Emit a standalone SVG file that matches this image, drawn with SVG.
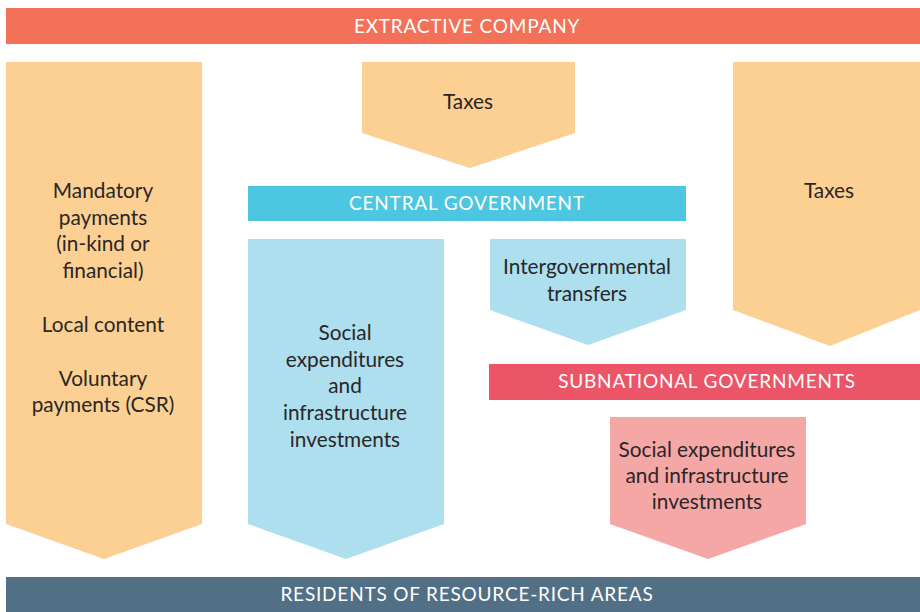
<svg xmlns="http://www.w3.org/2000/svg" width="920" height="612" viewBox="0 0 920 612">
  <style>
    .lbl { font-family: Lato, "Open Sans", "Liberation Sans", sans-serif; font-size: 20.8px; fill: #2a2627; text-anchor: middle; }
    .bar { font-family: Lato, "Open Sans", "Liberation Sans", sans-serif; font-size: 19px; fill: #ffffff; text-anchor: middle; letter-spacing: 0.8px; }
    .sand { fill: #FCD092; }
    .sky { fill: #ADDFEF; }
  </style>
  <rect width="920" height="612" fill="#ffffff"/>

  <g id="extractive-company">
    <rect x="6" y="8" width="914" height="36" fill="#F37158"/>
    <text class="bar" x="467" y="33">EXTRACTIVE COMPANY</text>
  </g>

  <g id="direct-payments">
    <polygon class="sand" points="6,62 202,62 202,524 104,559 6,524"/>
    <text class="lbl" x="103" y="198">Mandatory</text>
    <text class="lbl" x="103" y="225">payments</text>
    <text class="lbl" x="103" y="251">(in-kind or</text>
    <text class="lbl" x="103" y="278">financial)</text>
    <text class="lbl" x="103" y="332">Local content</text>
    <text class="lbl" x="103" y="386">Voluntary</text>
    <text class="lbl" x="103" y="412">payments (CSR)</text>
  </g>

  <g id="taxes-central">
    <polygon class="sand" points="362,62 575,62 575,133 470,168 362,133"/>
    <text class="lbl" x="468" y="109">Taxes</text>
  </g>

  <g id="taxes-subnational">
    <polygon class="sand" points="733,62 920,62 920,310 830,346 733,310"/>
    <text class="lbl" x="829" y="198">Taxes</text>
  </g>

  <g id="central-government">
    <rect x="248" y="186" width="438" height="35" fill="#4DC6E1"/>
    <text class="bar" x="467" y="210">CENTRAL GOVERNMENT</text>
  </g>

  <g id="central-spending">
    <polygon class="sky" points="248,239 444,239 444,524 346,559 248,524"/>
    <text class="lbl" x="345" y="340">Social</text>
    <text class="lbl" x="345" y="367">expenditures</text>
    <text class="lbl" x="345" y="393">and</text>
    <text class="lbl" x="345" y="420">infrastructure</text>
    <text class="lbl" x="345" y="447">investments</text>
  </g>

  <g id="transfers">
    <polygon class="sky" points="490,239 686,239 686,310 588,345 490,310"/>
    <text class="lbl" x="587" y="274">Intergovernmental</text>
    <text class="lbl" x="587" y="301">transfers</text>
  </g>

  <g id="subnational-governments">
    <rect x="489" y="364" width="431" height="36" fill="#EC5567"/>
    <text class="bar" x="707" y="388">SUBNATIONAL GOVERNMENTS</text>
  </g>

  <g id="subnational-spending">
    <polygon points="610,417 806,417 806,524 708,559 610,524" fill="#F5A7A6"/>
    <text class="lbl" x="707" y="457">Social expenditures</text>
    <text class="lbl" x="707" y="483">and infrastructure</text>
    <text class="lbl" x="707" y="509">investments</text>
  </g>

  <g id="residents">
    <rect x="6" y="577" width="914" height="35" fill="#527085"/>
    <text class="bar" x="467" y="601">RESIDENTS OF RESOURCE-RICH AREAS</text>
  </g>

  <g id="connectors"></g>
</svg>
